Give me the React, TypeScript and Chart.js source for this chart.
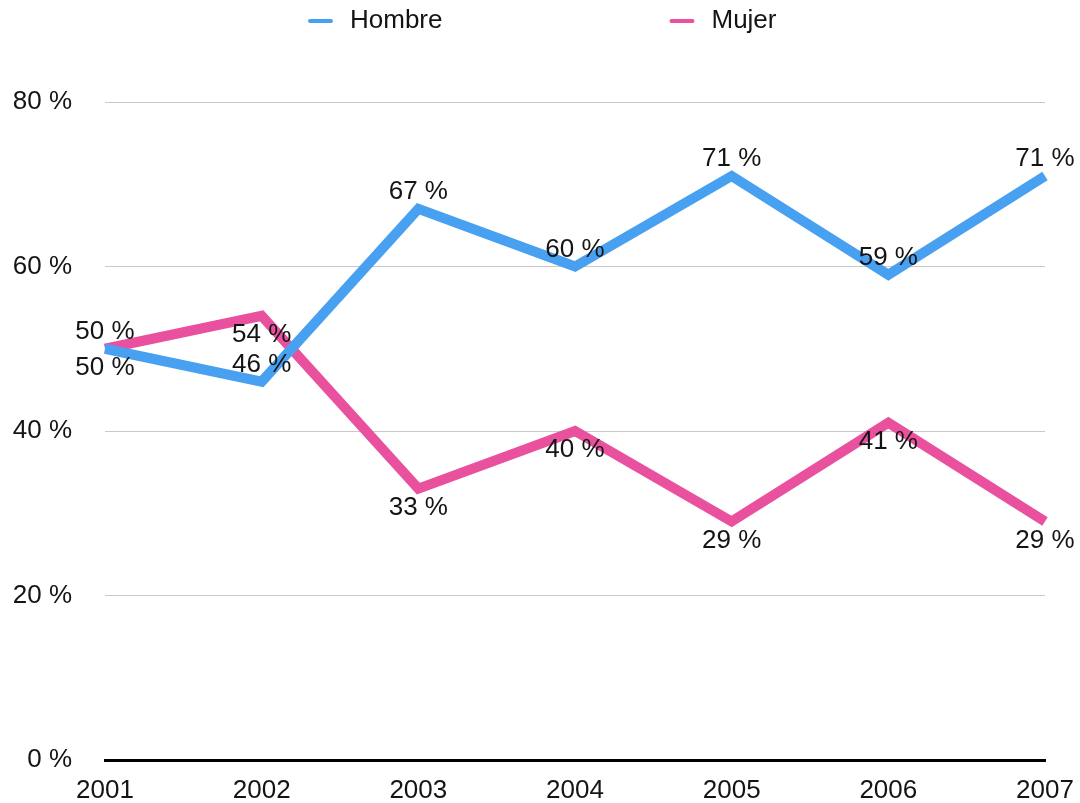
import React, { useEffect, useRef } from "react";
import { Chart, registerables } from "chart.js";

Chart.register(...registerables);

const years = ["2001", "2002", "2003", "2004", "2005", "2006", "2007"];
const hombre = [50, 46, 67, 60, 71, 59, 71];
const mujer = [50, 54, 33, 40, 29, 41, 29];
const seriesNames = ["Hombre", "Mujer"];
const yTicks = [0, 20, 40, 60, 80];

const BLUE = "#48a0f1";
const PINK = "#e9519e";
const FONT = "'Liberation Sans', Arial, Helvetica, sans-serif";
const TEXT = "#141414";

const dataLabelPlugin = {
  id: "dataLabels",
  afterDatasetsDraw(chart: any) {
    const ctx = chart.ctx;
    ctx.save();
    ctx.font = `26px ${FONT}`;
    ctx.fillStyle = TEXT;
    ctx.textAlign = "center";
    ctx.textBaseline = "middle";
    chart.data.datasets.forEach((ds: any, di: number) => {
      const meta = chart.getDatasetMeta(di);
      meta.data.forEach((pt: any, i: number) => {
        const v = ds.data[i];
        // Hombre above, Mujer below, except first point where swapped
        let above = di === 0;
        if (i === 0) above = !above;
        const dy = above ? -17 : 19;
        ctx.fillText(`${v} %`, pt.x, pt.y + dy);
      });
    });
    ctx.restore();
  },
};

const legendPlugin = {
  id: "customLegend",
  afterDraw(chart: any) {
    const ctx = chart.ctx;
    ctx.save();
    ctx.font = `26px ${FONT}`;
    ctx.textBaseline = "middle";
    ctx.textAlign = "left";
    const y = 21;
    let x = 308;
    chart.data.datasets.forEach((ds: any) => {
      ctx.strokeStyle = ds.borderColor;
      ctx.lineWidth = 4;
      ctx.lineCap = "round";
      ctx.beginPath();
      ctx.moveTo(x + 2, y);
      ctx.lineTo(x + 23, y);
      ctx.stroke();
      ctx.fillStyle = TEXT;
      ctx.fillText(ds.label, x + 42, y);
      const w = ctx.measureText(ds.label).width;
      x += 42 + w + 227;
    });
    ctx.restore();
  },
};

const zeroPad = (s: any) => {
  s.paddingLeft = 0;
  s.paddingRight = 0;
  s.paddingTop = 0;
  s.paddingBottom = 0;
};

export default function App() {
  const ref = useRef<HTMLCanvasElement>(null);
  useEffect(() => {
    if (!ref.current) return;
    const chart = new Chart(ref.current, {
      type: "line",
      data: {
        labels: years,
        datasets: [
          {
            label: seriesNames[0],
            data: hombre,
            borderColor: BLUE,
            backgroundColor: BLUE,
            borderWidth: 10,
            pointRadius: 0,
            tension: 0,
            borderJoinStyle: "miter",
          },
          {
            label: seriesNames[1],
            data: mujer,
            borderColor: PINK,
            backgroundColor: PINK,
            borderWidth: 10,
            pointRadius: 0,
            tension: 0,
            borderJoinStyle: "miter",
          },
        ],
      },
      options: {
        responsive: false,
        animation: false,
        layout: { padding: { top: 102, left: 0, right: 35, bottom: 0 } },
        plugins: {
          legend: { display: false },
          tooltip: { enabled: false },
        },
        scales: {
          x: {
            offset: false,
            grid: { display: false, drawTicks: false },
            border: { display: true, color: "#000", width: 3 },
            ticks: {
              font: { size: 26, family: FONT },
              color: TEXT,
              padding: 15,
              maxRotation: 0,
              autoSkip: false,
            },
            afterFit: (s: any) => {
              s.height = 43;
              zeroPad(s);
            },
          },
          y: {
            min: yTicks[0],
            max: yTicks[yTicks.length - 1],
            afterBuildTicks: (s: any) => {
              s.ticks = yTicks.map((v) => ({ value: v }));
            },
            grid: {
              drawTicks: false,
              color: (c: any) => (c.tick && c.tick.value === 0 ? "rgba(0,0,0,0)" : "#c9c9c9"),
              lineWidth: 1,
            },
            border: { display: false },
            ticks: {
              font: { size: 26, family: FONT },
              color: TEXT,
              padding: 33,
              callback: (v: any) => `${v} %`,
            },
            afterFit: (s: any) => {
              s.width = 105;
              zeroPad(s);
            },
          },
        },
      },
      plugins: [dataLabelPlugin, legendPlugin],
    });
    return () => chart.destroy();
  }, []);
  return (
    <div style={{ position: "absolute", left: 0, top: 0, width: 1080, height: 803, background: "#fff" }}>
      <canvas ref={ref} width={1080} height={803} />
    </div>
  );
}
